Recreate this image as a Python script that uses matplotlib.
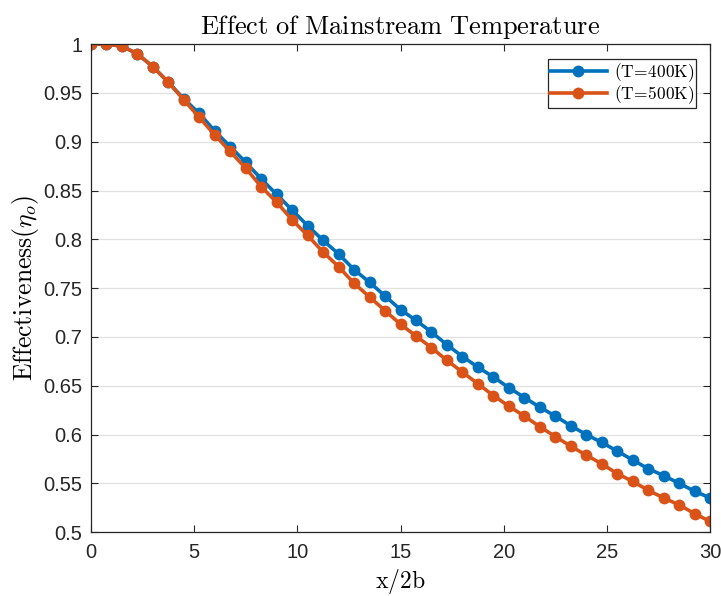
import numpy as np
import matplotlib
matplotlib.use("Agg")
import matplotlib.pyplot as plt

# x/2b positions (0 to 30, step 0.75)
x_pos = np.linspace(0, 30, 41)

eff_400 = [1.000, 1.000, 0.998, 0.990, 0.977, 0.961, 0.944, 0.929, 0.911, 0.895,
           0.879, 0.862, 0.846, 0.830, 0.814, 0.799, 0.785, 0.769, 0.756, 0.742,
           0.728, 0.717, 0.705, 0.692, 0.680, 0.669, 0.659, 0.648, 0.638, 0.628,
           0.619, 0.609, 0.600, 0.592, 0.583, 0.574, 0.565, 0.558, 0.550, 0.542,
           0.535]
eff_500 = [1.000, 1.000, 0.998, 0.990, 0.977, 0.961, 0.943, 0.925, 0.907, 0.890,
           0.873, 0.854, 0.838, 0.820, 0.804, 0.787, 0.772, 0.755, 0.741, 0.727,
           0.713, 0.701, 0.689, 0.676, 0.664, 0.652, 0.640, 0.629, 0.619, 0.608,
           0.598, 0.588, 0.579, 0.570, 0.560, 0.552, 0.543, 0.535, 0.528, 0.519,
           0.511]
labels = [r'$\mathrm{(T\!=\!400K)}$', r'$\mathrm{(T\!=\!500K)}$']

plt.rcParams['mathtext.fontset'] = 'cm'
plt.rcParams['font.family'] = ['Liberation Sans', 'DejaVu Sans']

fig = plt.figure(figsize=(7.21, 5.96), dpi=100)
ax = fig.add_axes([0.126, 0.107, 0.859, 0.819])

ax.plot(x_pos, eff_400, '-o', color='#0072BD', lw=2.6, ms=7.5, label=labels[0])
ax.plot(x_pos, eff_500, '-o', color='#D95319', lw=2.6, ms=7.5, label=labels[1])

ax.set_xlim(0, 30)
ax.set_ylim(0.5, 1.0)
ax.set_xticks(np.arange(0, 31, 5))
ax.set_yticks(np.arange(0.5, 1.001, 0.05))
ax.set_yticklabels(['0.5', '0.55', '0.6', '0.65', '0.7', '0.75', '0.8', '0.85', '0.9', '0.95', '1'])
ax.yaxis.grid(True, color='#e0e0e0', lw=0.9)
ax.set_axisbelow(True)
ax.tick_params(direction='in', top=True, right=True, labelsize=14.5, colors='#262626', length=5)
ax.tick_params(axis='x', pad=8)
ax.tick_params(axis='y', pad=6)
for s in ax.spines.values():
    s.set_color('#262626')
    s.set_linewidth(0.9)

ax.set_title(r'$\mathrm{Effect\ of\ Mainstream\ Temperature}$', fontsize=19, pad=7)
ax.set_xlabel(r'$\mathrm{x/2b}$', fontsize=17, labelpad=3)
ax.set_ylabel(r'$\mathrm{Effectiveness(}\eta_o\mathrm{)}$', fontsize=18.5, labelpad=2)

leg = ax.legend(loc='upper right', prop={'size': 12.5},
                fancybox=False, edgecolor='#262626', framealpha=1, handlelength=3.3,
                borderpad=0.1, labelspacing=0.0, handletextpad=0.4, borderaxespad=0,
                bbox_to_anchor=(0.977, 0.969))
leg.get_frame().set_linewidth(0.9)

fig.savefig("out.png", dpi=100)
